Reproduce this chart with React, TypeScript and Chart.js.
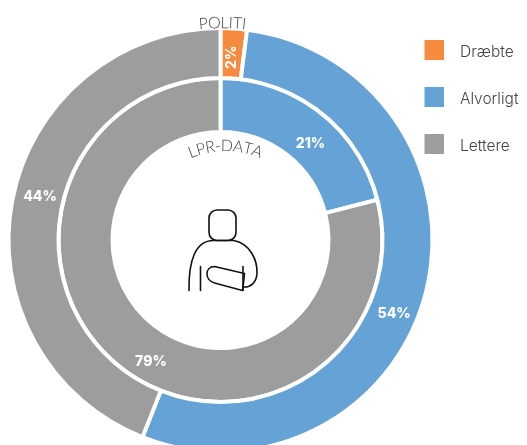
import React, { useEffect, useRef } from "react";
import { Chart, registerables } from "chart.js";

Chart.register(...registerables);

const categories = ["Dræbte", "Alvorligt", "Lettere"];
const politi = [2, 54, 44];
const lprData = [0, 21, 79];
const colors = ["#F68A3E", "#65A3D6", "#9D9D9E"];
const ringNames = ["POLITI", "LPR-DATA"];
const FONT = "Lato, sans-serif";
const BOLD = "Inter, sans-serif";

// angle (degrees clockwise from top), radius for each value label
const labelSpots = [
  [{ a: 3.5, r: 183, v: 2, rot: -90 }, { a: 112.5, r: 188, v: 54, rot: 0 }, { a: 284, r: 186, v: 44, rot: 0 }],
  [{ a: 42.6, r: 133, v: 21, rot: 0 }, { a: 210, r: 139, v: 79, rot: 0 }],
];

function curved(ctx: CanvasRenderingContext2D, text: string, cx: number, cy: number, r: number, spacing: number) {
  const widths = [...text].map((c) => ctx.measureText(c).width + spacing);
  const total = widths.reduce((a, b) => a + b, 0);
  let pos = -total / 2;
  [...text].forEach((c, i) => {
    const ang = (pos + widths[i] / 2) / r;
    ctx.save();
    ctx.translate(cx + Math.sin(ang) * r, cy - Math.cos(ang) * r);
    ctx.rotate(ang);
    ctx.fillText(c, 0, 0);
    ctx.restore();
    pos += widths[i];
  });
}

function drawIcon(ctx: CanvasRenderingContext2D, cx: number, cy: number) {
  ctx.save();
  ctx.translate(cx, cy);
  ctx.strokeStyle = "#111";
  ctx.lineWidth = 1.6;
  ctx.lineCap = "round";
  ctx.lineJoin = "round";
  ctx.beginPath();
  ctx.roundRect(-11.5, -30.5, 27, 30.5, 8);
  ctx.stroke();
  ctx.beginPath();
  ctx.moveTo(-31.5, 50);
  ctx.bezierCurveTo(-32, 20, -25, 0, -7, 0);
  ctx.lineTo(13, 0);
  ctx.bezierCurveTo(30, 3, 37, 20, 36.5, 33);
  ctx.bezierCurveTo(36, 42, 30, 47, 23, 46.5);
  ctx.stroke();
  ctx.beginPath();
  ctx.moveTo(-20, 26);
  ctx.lineTo(-20, 50);
  ctx.moveTo(22.5, 26);
  ctx.lineTo(22.5, 50);
  ctx.stroke();
  ctx.beginPath();
  ctx.moveTo(-6, 26);
  ctx.lineTo(24, 33);
  ctx.bezierCurveTo(23.5, 38, 23, 44, 22, 50);
  ctx.lineTo(-6, 42.5);
  ctx.bezierCurveTo(-16, 40, -16, 26, -6, 26);
  ctx.stroke();
  ctx.restore();
}

const overlay = {
  id: "overlay",
  afterDraw(chart: any) {
    const ctx = chart.ctx as CanvasRenderingContext2D;
    const meta = chart.getDatasetMeta(0).data[0];
    const cx = meta.x;
    const cy = meta.y;
    ctx.save();
    ctx.textAlign = "center";
    ctx.textBaseline = "middle";
    ctx.fillStyle = "#fff";
    ctx.font = `800 14px ${BOLD}`;
    labelSpots.flat().forEach((s) => {
      const t = (s.a * Math.PI) / 180;
      ctx.save();
      ctx.translate(cx + Math.sin(t) * s.r, cy - Math.cos(t) * s.r + (s.rot ? 0 : 1.5));
      ctx.rotate((s.rot * Math.PI) / 180);
      ctx.fillText(`${s.v}%`, 0, 0);
      ctx.restore();
    });
    ctx.fillStyle = "#444";
    ctx.font = `300 16px ${FONT}`;
    curved(ctx, ringNames[0], cx + 2, cy, 217, 0);
    curved(ctx, ringNames[1], cx + 5, cy, 94, 0);
    categories.forEach((c, i) => {
      const y = 50 + i * 47;
      ctx.fillStyle = colors[i];
      ctx.fillRect(424.5, y - 10, 19.5, 20);
      ctx.fillStyle = "#444";
      ctx.font = `300 15.5px ${BOLD}`;
      ctx.textAlign = "left";
      ctx.fillText(c, 460, y + 2);
    });
    drawIcon(ctx, cx, cy + 0.5);
    ctx.restore();
  },
};

export default function App() {
  const ref = useRef<HTMLCanvasElement>(null);
  useEffect(() => {
    document.body.style.margin = "0";
    const chart = new Chart(ref.current!, {
      type: "doughnut",
      data: {
        labels: categories,
        datasets: [
          { label: ringNames[0], data: politi, backgroundColor: colors, borderColor: "#fff", borderWidth: 4, weight: 50 },
          { label: ringNames[1], data: lprData, backgroundColor: colors, borderColor: "#fff", borderWidth: 4, weight: 54 },
        ],
      },
      options: {
        responsive: false,
        animation: false,
        cutout: 108,
        layout: { padding: { left: 6.5, right: 92.5, top: 26, bottom: 11 } },
        plugins: { legend: { display: false }, tooltip: { enabled: false } },
      } as any,
      plugins: [overlay],
    });
    return () => chart.destroy();
  }, []);
  return (
    <div style={{ width: 527, height: 445, overflow: "hidden", position: "relative" }}>
      <canvas ref={ref} width={527} height={465} style={{ display: "block" }} />
    </div>
  );
}
